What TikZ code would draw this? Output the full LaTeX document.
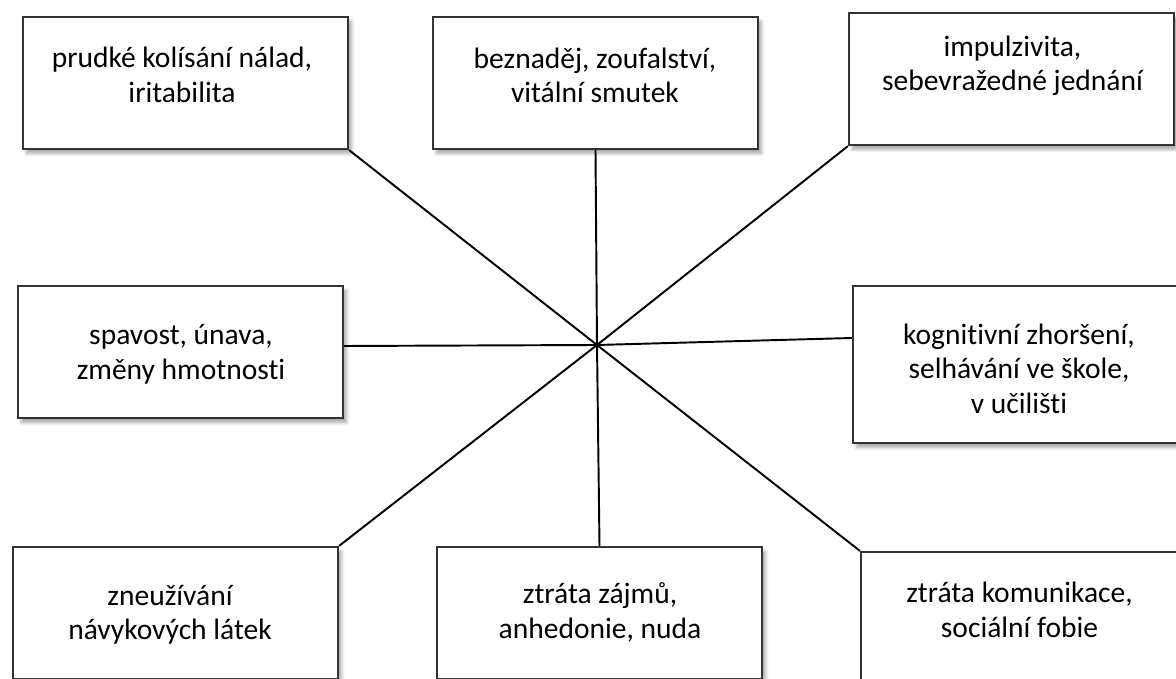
\documentclass[tikz,border=0pt]{standalone}
\usepackage{fontspec}
\setmainfont{Carlito}[Ligatures=NoCommon]
\usepackage{tikz}
\usetikzlibrary{shadows.blur}

\begin{document}
\begin{tikzpicture}[line width=1.1pt,
  box node/.style={rectangle,draw=black!80,line width=1.3pt,fill=white,
    minimum width=6.5cm,minimum height=2.64cm,
    blur shadow={shadow xshift=2pt,shadow yshift=-2.5pt,shadow blur steps=6,shadow opacity=35}},
  text node/.style={align=center,font=\fontsize{16.8}{19.6}\selectfont}]

  \path[use as bounding box,clip] (0,0) rectangle (23.52,-13.58);

  \coordinate (c) at (11.94,-6.90);

  \node[box node] (1) at (3.71,-1.66) {};
  \node[box node] (2) at (11.91,-1.66) {};
  \node[box node] (3) at (20.23,-1.58) {};
  \node[box node] (4) at (3.61,-7.04) {};
  \node[box node,minimum height=3.14cm] (5) at (20.31,-7.29) {};
  \node[box node] (6) at (3.51,-12.26) {};
  \node[box node] (7) at (11.99,-12.26) {};
  \node[box node] (8) at (20.47,-12.36) {};

  \draw (1.south east) -- (c);
  \draw (2.south) -- (c);
  \draw (3.south west) -- (c);
  \draw ([yshift=0.12cm]4.east) -- (c);
  \draw ([yshift=0.53cm]5.west) -- (c);
  \draw (6.north east) -- (c);
  \draw (7.north) -- (c);
  \draw (8.north west) -- (c);

  \node[text node] at (3.64,-1.50) {prudké kolísání nálad,\\iritabilita};
  \node[text node] at (11.9,-1.51) {beznaděj, zoufalství,\\vitální smutek};
  \node[text node] at (20.25,-1.32) {impulzivita,\\sebevražedné jednání};
  \node[text node] at (3.62,-7.09) {spavost, únava,\\změny hmotnosti};
  \node[text node] at (20.38,-7.37) {kognitivní zhoršení,\\selhávání ve škole,\\v učilišti};
  \node[text node] at (3.4,-12.30) {zneužívání\\návykových látek};
  \node[text node] at (12.0,-12.25) {ztráta zájmů,\\anhedonie, nuda};
  \node[text node] at (20.39,-12.20) {ztráta komunikace,\\sociální fobie};

\end{tikzpicture}
\end{document}
